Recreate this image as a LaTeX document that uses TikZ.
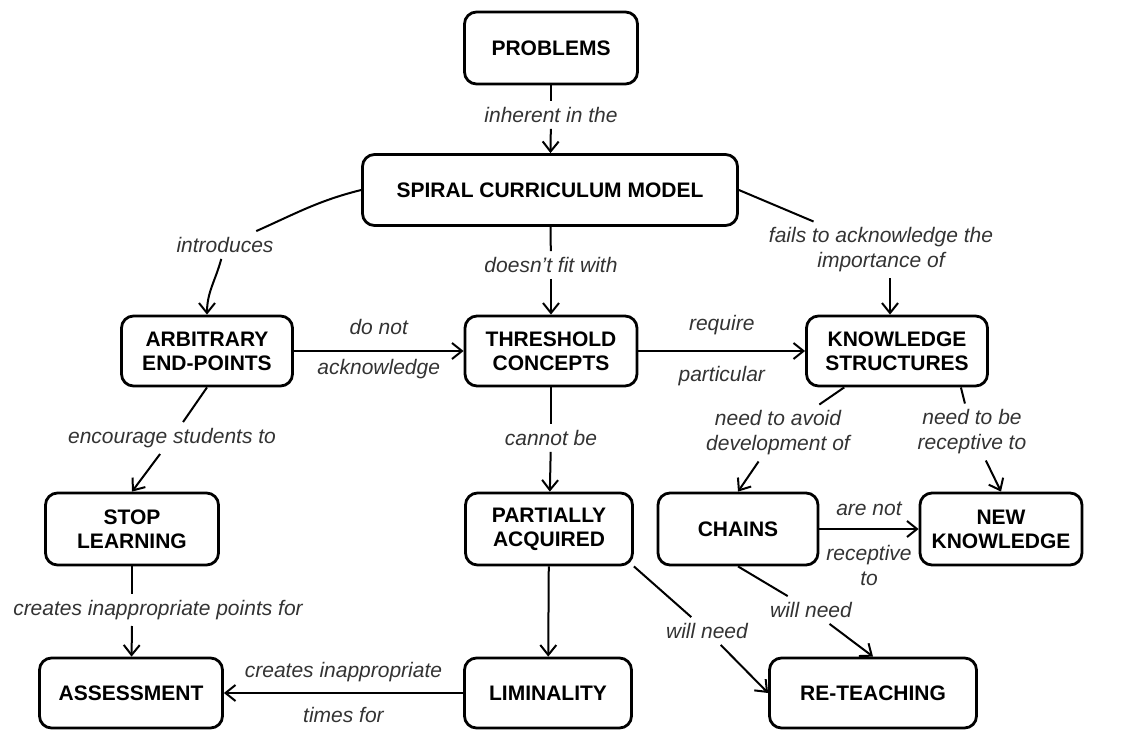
\documentclass[tikz,border=0pt]{standalone}
\usepackage{fontspec}
\setmainfont{Liberation Sans}
\usetikzlibrary{arrows.meta}
\begin{document}
\begin{tikzpicture}[x=1pt,y=1pt,
  box/.style={draw, line width=2.8pt, rounded corners=12pt, align=center,
    font=\fontsize{21}{24}\selectfont\bfseries, inner sep=0pt},
  lbl/.style={font=\fontsize{21}{25}\selectfont\itshape, text=black!80, inner sep=6pt, align=center},
  con/.style={line width=2pt},
  arr/.style={con, -{Straight Barb[length=10pt,width=16pt]}},
]
\useasboundingbox (0,0) rectangle (1126,-729);

% concept boxes
\node[box, minimum width=173pt, minimum height=72pt] (prob) at (551,-48) {PROBLEMS};
\node[box, minimum width=375pt, minimum height=71pt] (spiral) at (550,-190) {SPIRAL CURRICULUM MODEL};
\node[box, minimum width=171pt, minimum height=70pt] (arb) at (207,-351) {ARBITRARY\\END-POINTS};
\node[box, minimum width=172pt, minimum height=70pt] (thr) at (551,-351) {THRESHOLD\\CONCEPTS};
\node[box, minimum width=181pt, minimum height=70pt] (ks) at (897,-351) {KNOWLEDGE\\STRUCTURES};
\node[box, minimum width=173pt, minimum height=72pt] (stop) at (132,-529) {STOP\\LEARNING};
\node[box, minimum width=167pt, minimum height=72pt] (pa) at (549,-529) {PARTIALLY\\ACQUIRED};
\node[box, minimum width=160pt, minimum height=72pt] (chains) at (738,-529) {CHAINS};
\node[box, minimum width=162pt, minimum height=72pt] (nk) at (1001,-529) {NEW\\KNOWLEDGE};
\node[box, minimum width=183pt, minimum height=70pt] (asm) at (131,-693) {ASSESSMENT};
\node[box, minimum width=167pt, minimum height=70pt] (lim) at (548,-693) {LIMINALITY};
\node[box, minimum width=207pt, minimum height=70pt] (rt) at (873,-693) {RE-TEACHING};

% link labels
\node[lbl] (inh) at (551,-115) {inherent in the};
\node[lbl] (intro) at (225,-245) {introduces};
\node[lbl] (doesnt) at (551,-265) {doesn’t fit with};
\node[lbl] (fails) at (881,-250) {fails to acknowledge the\\importance of};
\node[lbl] (enc) at (172,-438) {encourage students to};
\node[lbl] (cannot) at (551,-438) {cannot be};
\node[lbl] (avoid) at (778,-433) {need to avoid\\development of};
\node[lbl] (recv) at (972,-432) {need to be\\receptive to};
\node[lbl] (cip) at (158,-610) {creates inappropriate points for};
\node[lbl] (wn1) at (707,-631) {will need};
\node[lbl] (wn2) at (811,-610) {will need};

% connectors
\draw[con] (prob) -- (inh);
\draw[arr] (inh) -- (spiral);
\draw[con] (spiral.west) to[out=194,in=24] (intro);
\draw[arr] (intro) to[out=-105,in=90] (arb);
\draw[con] (spiral) -- (doesnt);
\draw[arr] (doesnt) -- (thr);
\draw[con] (spiral.east) -- (fails);
\draw[arr] ([xshift=9pt]fails.south) -- ([xshift=-7pt]ks.north);
\draw[arr] (arb) -- node[lbl, yshift=24pt]{do not} node[lbl, yshift=-18pt]{acknowledge} (thr);
\draw[arr] (thr) -- node[lbl, yshift=26pt]{require} node[lbl, yshift=-25pt]{particular} (ks);
\draw[con] (arb.south) -- (enc);
\draw[arr] (enc) -- (stop.north);
\draw[con] (stop) -- (stop |- cip.north);
\draw[arr] (stop |- cip.south) -- (asm);
\draw[con] (thr) -- (cannot);
\draw[arr] (cannot) -- (pa);
\draw[arr] (pa) -- (lim);
\draw[arr] (lim) -- node[lbl, yshift=21pt]{creates inappropriate} node[lbl, yshift=-22pt]{times for} (asm);
\draw[con] (pa.south east) -- (wn1);
\draw[arr] (wn1) -- (rt.west);
\draw[con] (chains.south) -- (wn2);
\draw[arr] (wn2) -- (rt.north);
\draw[con] (ks) -- (avoid);
\draw[arr] (avoid) -- (chains.north);
\draw[con] ([xshift=-28pt]ks.south east) -- (recv);
\draw[arr] (recv) -- (nk.north);
\draw[arr] (chains) -- node[lbl, yshift=20pt]{are not} node[lbl, yshift=-36pt]{receptive\\to} (nk);
\end{tikzpicture}
\end{document}
